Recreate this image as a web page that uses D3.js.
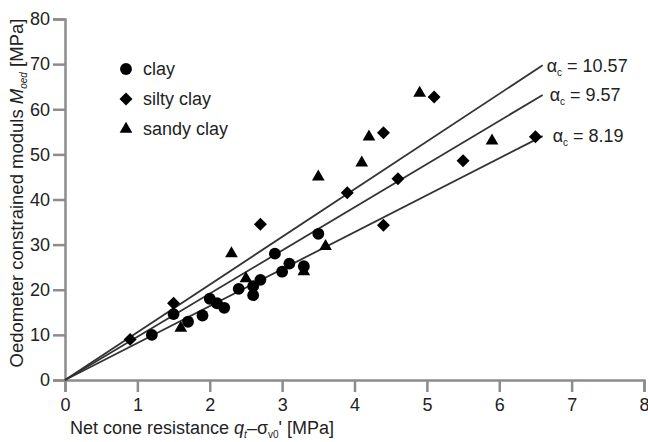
<!DOCTYPE html>
<html>
<head>
<script src="https://cdn.jsdelivr.net/npm/d3@7/dist/d3.min.js"></script>
<style>
  body { margin: 0; background: #fff; }
  text { font-family: "Liberation Sans", Arial, sans-serif; fill: #222; }
</style>
</head>
<body>
<script>
// data: [net cone resistance, Moed]
var clay = [[1.2,10],[1.5,14.6],[1.7,12.9],[1.9,14.3],[2.0,18],[2.1,17],[2.2,16],
            [2.4,20.2],[2.6,18.8],[2.6,20.8],[2.7,22.2],[2.9,28],[3.0,24],[3.1,25.8],
            [3.3,25.2],[3.5,32.4]];
var siltyClay = [[0.9,9],[1.5,17],[2.7,34.5],[3.9,41.5],[4.4,34.3],[4.4,54.8],
                 [4.6,44.6],[5.1,62.7],[5.5,48.6],[6.5,53.9]];
var sandyClay = [[1.6,11.5],[2.3,28],[2.5,22.5],[3.3,24],[3.5,45],[3.6,29.6],
                 [4.1,48.1],[4.2,53.9],[4.9,63.6],[5.9,53]];
var alphas = [10.57, 9.57, 8.19];
var lineEndX = 6.6;
var xTicks = [0,1,2,3,4,5,6,7,8];
var yTicks = [0,10,20,30,40,50,60,70,80];
var legendNames = ["clay", "silty clay", "sandy clay"];

var W = 648, H = 442;
var svg = d3.select("body").append("svg").attr("width", W).attr("height", H);

var x = d3.scaleLinear().domain([0, 8]).range([65, 644]);
var y = d3.scaleLinear().domain([0, 80]).range([380, 19]);

var axisColor = "#8c8c8c";

// axes
var gx = svg.append("g").attr("transform", "translate(0," + y(0) + ")")
  .call(d3.axisBottom(x).tickValues(xTicks).tickSize(12).tickPadding(6).tickFormat(d3.format("d")));
var gy = svg.append("g").attr("transform", "translate(" + x(0) + ",0)")
  .call(d3.axisLeft(y).tickValues(yTicks).tickSize(12).tickPadding(3).tickFormat(d3.format("d")));
[gx, gy].forEach(function(g){
  g.select(".domain").attr("stroke", axisColor).attr("stroke-width", 2.5);
  g.selectAll(".tick line").attr("stroke", axisColor).attr("stroke-width", 2.5);
  g.selectAll(".tick text").style("font-size", "18px").attr("fill", "#222")
    .style("font-family", "Liberation Sans, Arial, sans-serif");
});

// regression lines
svg.selectAll(".fit").data(alphas).enter().append("line")
  .attr("class", "fit")
  .attr("x1", x(0)).attr("y1", y(0))
  .attr("x2", x(lineEndX)).attr("y2", function(a){ return y(a * lineEndX); })
  .attr("stroke", "#333").attr("stroke-width", 1.8);

// line labels
var labelOffsets = [[4, 7], [7, 6], [10, 6]];
alphas.forEach(function(a, i){
  var t = svg.append("text")
    .attr("x", x(lineEndX) + labelOffsets[i][0])
    .attr("y", y(a * lineEndX) + labelOffsets[i][1])
    .style("font-size", "18px");
  t.append("tspan").text("\u03b1");
  t.append("tspan").attr("dy", 4).style("font-size", "10px").text("c");
  t.append("tspan").attr("dy", -4).text(" = " + a.toFixed(2));
});

// markers
var circleSym = d3.symbol().type(d3.symbolCircle).size(110);
var diamondSym = d3.symbol().type(d3.symbolSquare).size(84);
var triSym = d3.symbol().type(d3.symbolTriangle).size(70);

function drawSeries(data, sym, rot) {
  svg.append("g").selectAll("path").data(data).enter().append("path")
    .attr("d", sym)
    .attr("transform", function(d){
      return "translate(" + x(d[0]) + "," + y(d[1]) + ") rotate(" + rot + ")";
    })
    .attr("fill", "#000");
}
drawSeries(clay, circleSym, 0);
drawSeries(siltyClay, diamondSym, 45);
drawSeries(sandyClay, triSym, 0);

// legend
var legendSyms = [[circleSym, 0], [diamondSym, 45], [triSym, 0]];
legendNames.forEach(function(name, i){
  var ly = 69 + i * 30;
  svg.append("path").attr("d", legendSyms[i][0])
    .attr("transform", "translate(126," + ly + ") rotate(" + legendSyms[i][1] + ")")
    .attr("fill", "#000");
  svg.append("text").attr("x", 143).attr("y", ly + 6)
    .style("font-size", "18px").text(name);
});

// x axis title
var xt = svg.append("text").attr("x", 70).attr("y", 434).style("font-size", "18px");
xt.append("tspan").text("Net cone resistance ");
xt.append("tspan").style("font-style", "italic").text("q");
xt.append("tspan").attr("dy", 4).style("font-size", "10px").style("font-style", "italic").text("t");
xt.append("tspan").attr("dy", -4).text("\u2013\u03c3");
xt.append("tspan").attr("dy", 4).style("font-size", "10px").text("v0");
xt.append("tspan").attr("dy", -4).text("' [MPa]");

// y axis title
var yt = svg.append("text")
  .attr("transform", "translate(23,193) rotate(-90)")
  .attr("text-anchor", "middle")
  .style("font-size", "18.5px");
yt.append("tspan").text("Oedometer constrained moduls ");
yt.append("tspan").style("font-style", "italic").text("M");
yt.append("tspan").attr("dy", 4).style("font-size", "10px").style("font-style", "italic").text("oed");
yt.append("tspan").attr("dy", -4).text(" [MPa]");
</script>
</body>
</html>
